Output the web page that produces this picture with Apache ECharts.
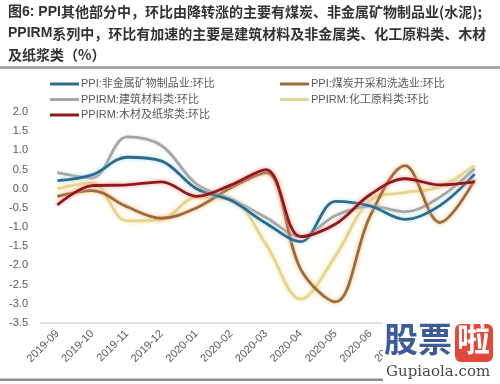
<!DOCTYPE html>
<html><head><meta charset="utf-8">
<script src="https://cdn.jsdelivr.net/npm/echarts@6/dist/echarts.min.js"></script>
<style>html,body{margin:0;padding:0;background:#fff}#c{width:500px;height:384px}</style>
</head><body><div id="c"></div>
<script>
const categories = ['2019-09','2019-10','2019-11','2019-12','2020-01','2020-02','2020-03','2020-04','2020-05','2020-06','2020-07','2020-08','2020-09'];
const yTicks = { min: -3.5, max: 2.0, interval: 0.5 };
const nameNonMetal = 'PPI:非金属矿物制品业:环比';
const nameCoal = 'PPI:煤炭开采和洗选业:环比';
const nameBuild = 'PPIRM:建筑材料类:环比';
const nameChem = 'PPIRM:化工原料类:环比';
const nameWood = 'PPIRM:木材及纸浆类:环比';
const nonMetal = [0.21, 0.36, 0.82, 0.72, 0.00, -0.31, -0.90, -1.38, -0.33, -0.45, -0.80, -0.44, 0.38];
const coal     = [-0.20, -0.05, -0.47, -0.77, -0.50, 0.03, 0.42, -2.10, -2.95, -0.70, 0.60, -0.88, 0.23];
const build    = [0.42, 0.28, 1.35, 1.12, 0.12, -0.27, -0.75, -1.25, -0.70, -0.45, -0.60, -0.22, 0.52];
const chem     = [0.00, 0.15, -0.84, -0.80, -0.22, -0.28, -1.45, -2.88, -1.75, -0.30, -0.10, 0.05, 0.60];
const wood     = [-0.42, 0.08, 0.10, 0.18, -0.20, 0.10, 0.50, -1.25, -0.92, -0.15, 0.26, 0.10, 0.18];

const FONT = "'Liberation Sans','Noto Sans CJK SC',sans-serif";
const CJK = "'Noto Sans CJK SC',sans-serif";

function lineSeries(name, data, color, glow) {
  return {
    name, type: 'line', data, smooth: 0.35, showSymbol: false, symbol: 'none',
    lineStyle: { color, width: 2.8, shadowColor: glow, shadowBlur: 4 },
    itemStyle: { color }
  };
}

const chart = echarts.init(document.getElementById('c'), null, { renderer: 'canvas' });
chart.setOption({
  animation: false,
  backgroundColor: '#fff',
  title: {
    left: 8, top: 1, padding: 0,
    text: '{b|图6: PPI}{n|其他部分中，环比由降转涨的主要有煤炭、非金属矿物制品业(水泥);}\n{b|PPIRM}{n|系列中，环比有加速的主要是建筑材料及非金属类、化工原料类、木材}\n{n|及纸浆类（%）}',
    textStyle: {
      rich: {
        b: { fontFamily: FONT, fontWeight: 'bold', fontSize: 14, color: '#333333', lineHeight: 21.5 },
        n: { fontFamily: CJK, fontSize: 14, color: '#333333', lineHeight: 21.5 }
      }
    }
  },
  legend: [
    { left: 50, top: 77, padding: 0, orient: 'vertical', icon: 'rect', itemWidth: 29, itemHeight: 3, itemGap: 1.5,
      data: [nameNonMetal, nameBuild, nameWood],
      textStyle: { fontFamily: FONT, fontSize: 11, color: '#595959', lineHeight: 14, padding: [0,0,0,-3] } },
    { left: 280, top: 77, padding: 0, orient: 'vertical', icon: 'rect', itemWidth: 29, itemHeight: 3, itemGap: 1.5,
      data: [nameCoal, nameChem],
      textStyle: { fontFamily: FONT, fontSize: 11, color: '#595959', lineHeight: 14, padding: [0,0,0,-3] } }
  ],
  grid: { left: 40, right: 8, top: 112, bottom: 61, containLabel: false },
  xAxis: [{
    type: 'category', data: categories, boundaryGap: true,
    axisLine: { show: false }, axisTick: { show: false },
    axisLabel: { rotate: 45, margin: 9, fontFamily: FONT, fontSize: 11, color: '#595959', interval: 0 }
  }, {
    type: 'category', data: categories, position: 'bottom',
    axisLine: { show: true, onZero: true, lineStyle: { color: '#d9d9d9', width: 1.5 } },
    axisTick: { show: false }, axisLabel: { show: false }
  }],
  yAxis: {
    type: 'value', min: yTicks.min, max: yTicks.max, interval: yTicks.interval,
    axisLine: { show: false }, axisTick: { show: false }, splitLine: { show: false },
    axisLabel: { margin: 12, fontFamily: FONT, fontSize: 11, color: '#595959', formatter: v => v.toFixed(1) }
  },
  series: [
    lineSeries(nameChem, chem, '#e3d596', '#ffdf8a'),
    lineSeries(nameBuild, build, '#a6a6a6', '#e2e2e2'),
    lineSeries(nameCoal, coal, '#9a6b40', '#f7b870'),
    lineSeries(nameNonMetal, nonMetal, '#2f6c8c', '#a9dcef'),
    lineSeries(nameWood, wood, '#8c1c1c', '#ff9c9c')
  ],
  graphic: [
    { type: 'rect', z: 100, shape: { x: 0, y: 66, width: 500, height: 3 }, style: { fill: '#a8a8a8' }, silent: true },
    { type: 'rect', z: 100, shape: { x: 0, y: 378.5, width: 385, height: 2.5 }, style: { fill: '#8e8e8e' }, silent: true },
    { type: 'rect', z: 100, shape: { x: 383, y: 320, width: 117, height: 64 }, style: { fill: '#ffffff' }, silent: true },
    { type: 'text', z: 101, left: 384, top: 322, style: { text: '股票', font: "bold 34px 'Noto Sans CJK SC'", fill: '#3d5c97' } },
    { type: 'rect', z: 101, shape: { x: 455, y: 324, width: 38, height: 38, r: 6 }, style: { fill: '#e0483b' } },
    { type: 'text', z: 102, left: 457, top: 322, style: { text: '啦', font: "bold 33px 'Noto Sans CJK SC'", fill: '#ffffff' } },
    { type: 'text', z: 101, left: 386, top: 365, style: { text: 'Gupiaola.com', font: "15px 'DejaVu Serif'", fill: '#4a4a4a' } }
  ]
});
</script>
</body></html>
